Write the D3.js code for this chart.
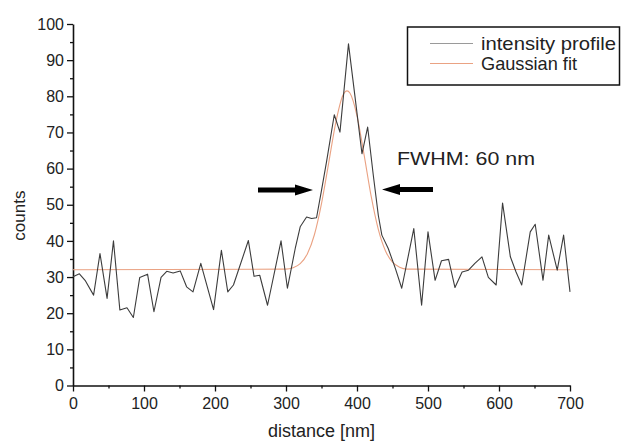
<!DOCTYPE html>
<html><head><meta charset="utf-8">
<script src="https://cdn.jsdelivr.net/npm/d3@7"></script>
<style>html,body{margin:0;padding:0;background:#fff;}svg{display:block;}</style>
</head><body>
<svg id="chart" width="625" height="443"></svg>
<script>
// intensity profile
const profileDistance = [0, 9, 17, 29, 38, 48, 57, 66, 76, 85, 94, 105, 114, 124, 132, 141, 151, 160, 169, 180, 198, 209, 218, 226, 247, 255, 263, 274, 293, 302, 313, 320, 329, 336, 343, 350, 357, 368, 376, 388, 397, 407, 415, 423, 430, 435, 444, 454, 463, 480, 491, 500, 510, 519, 529, 538, 548, 557, 566, 576, 585, 596, 605, 616, 624, 632, 644, 651, 662, 670, 682, 691, 700];
const profileCounts = [30.1, 30.9, 29.1, 25.0, 36.5, 24.1, 40.0, 20.9, 21.5, 18.8, 29.9, 30.8, 20.4, 29.9, 31.6, 31.1, 31.7, 27.3, 25.9, 33.8, 21.0, 37.4, 25.9, 27.8, 40.1, 30.2, 30.5, 22.2, 40.0, 26.9, 37.9, 43.9, 46.6, 46.2, 46.4, 54.0, 61.8, 74.9, 70.1, 94.5, 80.2, 64.1, 71.5, 58.1, 47.1, 41.6, 37.9, 32.4, 26.9, 43.4, 22.2, 42.5, 29.1, 34.5, 34.9, 27.1, 31.4, 31.9, 33.8, 35.6, 29.9, 27.8, 50.5, 35.6, 31.4, 27.8, 42.5, 44.6, 29.1, 41.6, 31.9, 41.6, 25.9];
// Gaussian fit curve
const fitDistance = [0, 300, 310, 320, 330, 340, 350, 360, 370, 380, 386, 390, 400, 410, 420, 430, 440, 450, 460, 470, 700];
const fitCounts = [32, 32.2, 32.6, 33.7, 36.4, 41.7, 50.3, 61.4, 72.6, 80.2, 81.5, 80.9, 74.6, 63.8, 52.3, 43.2, 37.3, 34.1, 32.7, 32.2, 32];
// axis ticks
const xTicks = [0, 100, 200, 300, 400, 500, 600, 700];
const xMinorTicks = [50, 150, 250, 350, 450, 550, 650];
const yTicks = [0, 10, 20, 30, 40, 50, 60, 70, 80, 90, 100];
const yMinorTicks = [5, 15, 25, 35, 45, 55, 65, 75, 85, 95];
const legendLabels = ["intensity profile", "Gaussian fit"];
const annotationText = "FWHM: 60 nm";
const xTitle = "distance [nm]";
const yTitle = "counts";

const FONT = "'Liberation Sans', Arial, Helvetica, sans-serif";
const profileColor = "#3c3c3c";
const fitColor = "#eaa283";

const svg = d3.select("#chart");
svg.append("rect").attr("width", 625).attr("height", 443).attr("fill", "#fff");

const x = d3.scaleLinear().domain([0, 700]).range([73, 570]);
const y = d3.scaleLinear().domain([0, 100]).range([385.5, 24]);

// minor ticks
const xMinor = svg.append("g").attr("transform", `translate(0,${y(0)})`)
  .call(d3.axisBottom(x).tickValues(xMinorTicks).tickSize(3).tickSizeOuter(0).tickFormat(""));
const yMinor = svg.append("g").attr("transform", `translate(${x(0)},0)`)
  .call(d3.axisLeft(y).tickValues(yMinorTicks).tickSize(3).tickSizeOuter(0).tickFormat(""));
[xMinor, yMinor].forEach(g => { g.select(".domain").remove(); g.selectAll("line").attr("stroke", "#111").attr("stroke-width", 1.3); });

// major axes
const xAxis = svg.append("g").attr("transform", `translate(0,${y(0)})`)
  .call(d3.axisBottom(x).tickValues(xTicks).tickSize(6).tickSizeOuter(0).tickPadding(5));
const yAxis = svg.append("g").attr("transform", `translate(${x(0)},0)`)
  .call(d3.axisLeft(y).tickValues(yTicks).tickSize(6).tickSizeOuter(0).tickPadding(3));
[xAxis, yAxis].forEach(g => {
  g.select(".domain").attr("stroke", "#111").attr("stroke-width", 1.6);
  g.selectAll(".tick line").attr("stroke", "#111").attr("stroke-width", 1.3);
  g.selectAll(".tick text").attr("font-family", FONT).attr("font-size", 16).attr("fill", "#222");
});
xAxis.selectAll(".tick text").attr("dy", "0.75em");

// Gaussian fit
svg.append("path")
  .datum(fitDistance.map((d, i) => [d, fitCounts[i]]))
  .attr("fill", "none").attr("stroke", fitColor).attr("stroke-width", 1.1)
  .attr("d", d3.line().x(d => x(d[0])).y(d => y(d[1])).curve(d3.curveMonotoneX));

// intensity profile
svg.append("path")
  .datum(profileDistance.map((d, i) => [d, profileCounts[i]]))
  .attr("fill", "none").attr("stroke", profileColor).attr("stroke-width", 1.1)
  .attr("stroke-linejoin", "round")
  .attr("d", d3.line().x(d => x(d[0])).y(d => y(d[1])));

// axis titles
svg.append("text").attr("x", (x(0) + x(700)) / 2).attr("y", 437)
  .attr("text-anchor", "middle").attr("font-family", FONT).attr("font-size", 18).attr("fill", "#222")
  .text(xTitle);
svg.append("text").attr("transform", `translate(25,${y(47)}) rotate(-90)`)
  .attr("text-anchor", "middle").attr("font-family", FONT).attr("font-size", 17).attr("fill", "#222")
  .text(yTitle);

// legend
const lg = svg.append("g");
lg.append("rect").attr("x", 407.5).attr("y", 27).attr("width", 212).attr("height", 58)
  .attr("fill", "#fff").attr("stroke", "#111").attr("stroke-width", 1.5);
const legendColors = ["#9a9a9a", fitColor];
const legendWidths = [135, 96];
legendLabels.forEach((lab, i) => {
  const yy = 43.5 + i * 20;
  lg.append("line").attr("x1", 430).attr("x2", 473).attr("y1", yy).attr("y2", yy)
    .attr("stroke", legendColors[i]).attr("stroke-width", 1.2);
  lg.append("text").attr("x", 481).attr("y", yy + 6).attr("font-family", FONT).attr("font-size", 18.5)
    .attr("fill", "#222").attr("textLength", legendWidths[i]).attr("lengthAdjust", "spacingAndGlyphs").text(lab);
});

// annotation
svg.append("text").attr("x", 397).attr("y", 165).attr("font-family", FONT).attr("font-size", 19)
  .attr("fill", "#222").attr("textLength", 138).attr("lengthAdjust", "spacingAndGlyphs").text(annotationText);

// arrows
function arrow(tipX, tailX, yy) {
  const dir = Math.sign(tipX - tailX);
  const headLen = 18, half = 5.5, shaft = 2.5;
  const hb = tipX - dir * headLen;
  const pts = [[tailX, yy - shaft], [hb, yy - shaft], [hb, yy - half], [tipX, yy], [hb, yy + half], [hb, yy + shaft], [tailX, yy + shaft]];
  svg.append("path").attr("d", "M" + pts.map(p => p.join(",")).join("L") + "Z").attr("fill", "#000");
}
arrow(313, 258, 190);
arrow(382, 433, 189.5);
</script>
</body></html>
